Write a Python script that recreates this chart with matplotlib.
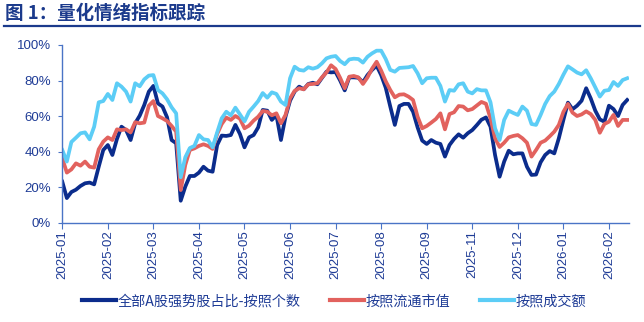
import matplotlib
matplotlib.use('Agg')
import matplotlib.pyplot as plt
from matplotlib.lines import Line2D
import numpy as np

# 数据 (%)
tick_labels = ['2025-01', '2025-02', '2025-03', '2025-04', '2025-05', '2025-06', '2025-07',
               '2025-08', '2025-09', '2025-11', '2025-12', '2026-01', '2026-02']
pts_per_tick = 10

by_count = [23.2, 14.0, 17.4, 18.7, 20.8, 22.3, 22.7, 21.7, 31.6, 41.0,
            43.8, 38.2, 47.2, 54.1, 52.2, 46.6, 56.0, 60.3, 66.3, 73.8,
            77.0, 67.2, 65.4, 59.4, 46.6, 44.8, 12.5, 20.4, 26.4, 26.4,
            28.3, 31.6, 29.4, 28.8, 43.8, 49.1, 48.9, 49.4, 55.1, 50.0,
            42.5, 48.1, 49.4, 53.7, 63.5, 63.1, 57.9, 60.7, 46.6, 59.7,
            68.7, 73.8, 76.6, 75.1, 78.1, 78.8, 77.9, 81.5, 85.0, 84.6,
            84.8, 80.0, 74.5, 81.8, 81.8, 81.6, 79.0, 83.1, 86.0, 88.4,
            83.1, 76.0, 65.4, 55.1, 65.7, 66.9, 66.9, 62.5, 53.7, 46.3,
            44.4, 46.6, 45.1, 44.4, 37.3, 43.8, 47.2, 49.8, 47.9, 50.4,
            52.2, 55.0, 58.0, 59.3, 54.1, 38.2, 26.0, 34.5, 40.6, 38.6,
            39.1, 39.1, 31.6, 27.0, 27.2, 34.1, 38.2, 40.4, 39.1, 47.6,
            57.9, 67.6, 63.9, 65.9, 68.7, 75.7, 70.0, 63.1, 58.2, 56.9,
            65.9, 64.0, 60.1, 66.3, 69.1]

by_float_cap = [36.3, 28.3, 30.1, 33.5, 32.2, 34.5, 31.6, 31.1, 41.4, 45.7,
                48.1, 46.6, 52.6, 52.2, 52.6, 50.9, 56.6, 56.0, 56.4, 65.9,
                68.5, 60.1, 58.8, 57.3, 54.5, 51.3, 18.5, 32.6, 41.0, 41.9,
                43.3, 44.2, 43.3, 41.6, 50.0, 55.6, 59.2, 57.9, 60.1, 58.6,
                53.2, 54.7, 57.5, 59.7, 62.9, 62.5, 60.5, 61.6, 56.0, 60.7,
                70.0, 74.2, 75.7, 75.1, 77.9, 78.1, 78.5, 81.8, 84.6, 88.6,
                86.5, 81.5, 75.7, 82.2, 82.6, 81.8, 78.1, 81.8, 86.7, 90.6,
                85.6, 79.6, 74.7, 70.6, 72.1, 72.3, 71.0, 69.1, 59.7, 53.2,
                54.5, 56.4, 58.4, 61.6, 52.6, 61.2, 62.2, 65.7, 65.4, 63.3,
                64.0, 66.0, 68.0, 67.0, 58.8, 47.6, 42.7, 45.1, 48.1, 48.9,
                49.4, 47.6, 45.1, 37.3, 41.0, 45.1, 46.3, 48.7, 51.3, 55.1,
                62.4, 66.9, 62.0, 60.1, 61.0, 62.7, 61.2, 57.9, 50.7, 55.6,
                56.9, 60.7, 54.5, 57.9, 57.9]

by_turnover = [41.0, 34.5, 45.5, 47.9, 50.4, 50.9, 47.0, 54.1, 67.8, 68.5,
               72.5, 69.1, 78.5, 76.6, 73.8, 68.2, 78.5, 76.8, 80.7, 82.8,
               83.1, 74.7, 72.8, 69.5, 65.0, 61.6, 25.7, 36.9, 42.1, 43.3,
               49.4, 47.0, 46.6, 42.5, 50.9, 58.8, 62.5, 60.5, 64.8, 61.0,
               57.1, 62.5, 65.4, 68.5, 73.0, 70.4, 73.4, 72.5, 68.2, 66.3,
               81.3, 87.8, 86.0, 85.6, 87.5, 86.7, 87.5, 89.7, 92.5, 93.4,
               93.8, 91.0, 89.2, 91.9, 92.3, 92.1, 90.1, 93.4, 95.3, 96.8,
               96.8, 92.1, 86.0, 85.0, 87.1, 87.3, 87.5, 88.2, 84.1, 78.5,
               81.3, 81.6, 81.6, 77.0, 68.2, 74.7, 74.3, 77.9, 78.5, 73.8,
               72.8, 75.2, 74.5, 74.5, 67.8, 53.2, 46.6, 57.9, 63.1, 61.8,
               60.7, 65.4, 63.1, 55.6, 55.1, 60.7, 66.9, 71.3, 73.8, 78.1,
               83.3, 88.0, 86.3, 84.5, 83.5, 85.8, 81.3, 76.2, 71.0, 74.3,
               74.7, 79.2, 77.0, 80.3, 81.3]

series_names = ['全部A股强势股占比-按照个数', '按照流通市值', '按照成交额']

navy = '#0B2C8C'
red = '#E2625E'
light = '#5CCDF6'
axis_col = '#4A74C6'
text_col = '#1F3C96'

plt.rcParams['font.family'] = ['Noto Sans CJK SC', 'DejaVu Sans']

fig = plt.figure(figsize=(6.44, 3.22), dpi=100)
ax = fig.add_axes([0.0967, 0.3075, 0.8807, 0.5528])

x = np.arange(len(by_count))
for vals, col, name in zip([by_count, by_float_cap, by_turnover],
                           [navy, red, light], series_names):
    ax.plot(x, vals, color=col, lw=2.7, label=name, solid_joinstyle='round')

ax.set_xlim(0, 124.5)
ax.set_ylim(0, 100)
ax.set_yticks(np.arange(0, 101, 20))
ax.set_yticklabels([f'{v}%' for v in range(0, 101, 20)],
                   family='Liberation Sans', fontsize=9.5, color=text_col)
ax.set_xticks(np.arange(len(tick_labels)) * pts_per_tick)
ax.set_xticklabels(tick_labels, rotation=90, family='Liberation Sans',
                   fontsize=9.5, color=text_col)

for s in ['top', 'right']:
    ax.spines[s].set_visible(False)
for s in ['left', 'bottom']:
    ax.spines[s].set_color(axis_col)
    ax.spines[s].set_linewidth(1.0)
ax.tick_params(axis='x', direction='out', length=4, color=axis_col, pad=1)
ax.tick_params(axis='y', direction='out', length=3, color=axis_col, pad=5)

# 标题
fig.text(0.008, 0.957, '图 1：量化情绪指标跟踪', fontsize=13.3, fontweight='bold',
         color='#1B3A8C', va='center', ha='left')
fig.add_artist(Line2D([0.006, 0.994], [0.918, 0.918], color='#1B3A8C', lw=1.6,
                      transform=fig.transFigure))

leg = fig.legend(loc='center', bbox_to_anchor=(0.519, 0.065), ncol=3, frameon=False,
                 fontsize=10.2, handlelength=2.4, columnspacing=2.1, handletextpad=0.1)
for t in leg.get_texts():
    t.set_color(text_col)
for h in leg.get_lines():
    h.set_linewidth(3)

fig.savefig('out.png', dpi=100)
